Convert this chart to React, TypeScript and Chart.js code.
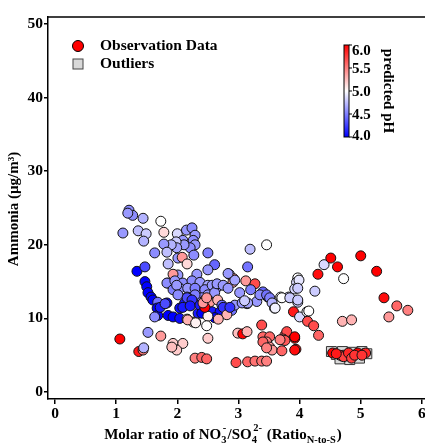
import React, { useEffect, useRef } from "react";
import { Chart, registerables } from "chart.js";
Chart.register(...registerables);

// ---- data: NO3-/SO4 2- molar ratio, ammonia (µg/m3), predicted pH ----
const ratioA = [1.21,1.27,1.19,1.44,1.73,1.11,1.36,1.49,1.45,1.78,1.63,2.00,2.15,2.24,2.29,2.26,2.29,2.21,2.27,2.09,2.11,1.98,1.99,1.90,1.78,1.83,2.01,2.08,2.16,1.85,2.01,1.93,1.34,1.47,1.47,2.32,1.85,2.50,3.19,3.46,2.61,2.50,3.15,2.85,2.92,3.12,3.27,3.97,3.95,3.92,4.40,4.51,4.62,4.30,4.72,5.00,5.26,4.25,3.20,3.40,3.48,3.69,3.82,5.38,3.97,3.90,4.00,4.12,4.15,4.13,4.23,4.31,3.92,3.94,5.59,5.77,5.46,4.70,4.85];
const ammoniaA = [24.7,24.0,24.3,23.6,23.2,21.6,21.9,21.5,20.5,21.7,18.9,21.5,22.0,22.3,21.3,20.6,20.0,19.6,18.6,20.6,20.0,20.4,19.6,20.0,20.1,19.0,18.2,18.3,17.4,17.4,15.9,16.0,16.4,17.0,15.0,16.0,14.8,18.9,19.4,20.0,17.3,16.6,17.0,16.0,15.4,15.1,14.7,15.5,14.9,14.0,17.3,18.2,17.0,16.0,15.4,18.5,16.4,13.7,13.9,13.6,12.9,12.9,12.9,12.8,12.2,10.9,10.2,10.9,11.0,9.6,9.0,7.7,7.3,5.8,11.7,11.1,10.2,9.6,9.8];
const phA = [4.55,4.55,4.6,4.7,5.0,4.6,4.75,4.8,4.7,5.15,4.55,4.85,4.6,4.55,4.6,4.55,4.6,4.55,4.55,4.6,4.6,4.8,4.65,4.7,4.6,4.75,4.6,5.4,5.15,4.75,4.6,5.4,4.0,4.3,4.0,4.6,4.55,4.5,4.75,5.0,4.4,4.6,4.45,4.8,5.4,5.4,5.7,5.0,4.85,4.85,4.85,6.0,6.0,5.95,5.0,6.0,6.0,4.8,4.5,4.4,4.3,5.0,4.8,5.95,4.8,5.9,4.85,4.95,5.0,5.7,5.7,5.6,6.0,5.9,5.6,5.5,5.4,5.3,5.3];

const ratioL = [1.83,1.96,2.09,2.24,2.37,1.93,2.04,2.17,2.32,2.42,2.50,1.99,2.29,2.45,2.57,2.66,2.50,2.61,2.40,2.29,2.16,2.01,2.65,2.45,2.53,2.66,2.91,2.94,2.75,2.83,2.83,3.02,3.14,3.30,3.35,3.46,3.51,3.55,3.59,3.71,3.84,3.97,3.99,3.97];
const ammoniaL = [14.8,15.1,14.8,15.1,14.9,13.9,14.1,14.1,13.7,13.6,14.5,14.5,14.1,13.9,14.5,14.3,13.2,13.5,12.8,13.2,12.9,13.2,14.7,12.5,12.2,12.5,14.9,15.2,14.5,16.1,14.1,13.5,12.0,12.3,13.2,13.2,12.8,12.1,11.4,12.8,12.8,12.5,15.2,14.1];
const phL = [4.55,4.6,4.55,4.55,4.6,4.5,4.55,4.6,4.55,4.6,4.65,4.6,4.5,4.55,4.6,4.55,4.6,4.6,4.55,4.5,4.5,4.55,4.6,5.6,5.4,5.3,5.35,4.65,4.6,4.6,4.6,4.6,4.85,4.6,4.55,4.45,4.5,4.7,4.85,5.0,4.8,4.8,4.9,4.8];

const ratioB = [1.50,1.52,1.57,1.60,1.68,1.67,1.68,1.63,1.83,1.85,1.93,2.04,2.04,2.16,2.26,2.30,2.12,2.16,2.24,2.34,1.72,1.80,2.09,2.21,2.57,2.65,2.70,2.73,2.75,2.61,2.89,2.94,3.06,3.15,2.37,2.40,2.50,2.45,2.42,2.48,2.81,2.86,3.10];
const ammoniaB = [14.3,13.5,12.9,12.5,12.2,11.4,10.4,10.2,12.1,10.4,10.2,10.0,11.4,9.9,9.5,9.5,12.1,12.8,12.5,10.7,11.5,12.0,11.5,11.7,10.9,10.2,10.9,11.8,11.5,10.1,11.1,11.8,12.1,12.1,11.8,10.7,10.3,11.5,12.1,12.8,10.5,11.5,12.4];
const phB = [4.0,4.0,4.0,4.0,4.45,4.0,4.0,4.55,4.0,4.0,4.0,4.05,4.05,5.2,5.2,4.8,4.1,4.3,4.2,4.1,4.1,4.3,4.1,4.1,4.1,4.0,4.05,4.45,4.2,4.0,4.45,4.6,4.6,4.65,4.1,4.0,5.05,6.0,5.4,5.4,5.3,4.2,4.8];

const ratioC = [1.06,1.37,1.44,1.45,1.52,1.73,1.93,2.09,1.99,1.91,2.29,2.40,2.48,2.50,2.17,2.30,2.48,2.67,2.99,3.07,3.14,2.96,3.15,3.27,3.38,3.46,3.38,3.40,3.51,3.46,3.51,3.55,3.40,3.71,3.76,3.79,3.73,3.76,3.92,3.92,3.60,3.68,3.46];
const ammoniaC = [7.2,5.5,5.7,6.0,8.1,7.6,6.6,6.6,5.7,6.1,4.6,4.7,4.5,7.3,9.8,9.4,9.0,9.9,8.0,7.9,8.2,4.0,4.1,4.2,4.2,4.2,9.1,7.5,7.5,6.8,6.1,5.7,6.8,5.6,7.7,8.2,7.2,7.0,5.7,7.5,11.4,7.1,6.0];
const phC = [6.0,5.9,5.5,4.7,4.6,5.4,5.2,5.2,5.2,5.25,5.5,5.6,5.6,5.2,5.3,5.05,5.0,5.3,5.25,6.0,5.3,5.7,5.6,5.55,5.55,5.5,5.7,5.6,5.6,5.5,5.4,5.4,5.6,5.6,5.6,5.7,5.6,5.65,5.95,6.0,4.95,5.5,5.5];

const ratioD = [4.54,4.66,4.72,4.80,4.85,4.95,5.08,4.90,4.60,5.02];
const ammoniaD = [5.3,5.0,4.8,5.3,4.6,5.3,5.3,5.0,5.2,5.0];
const phD = [6.0,5.8,5.75,5.85,5.75,6.0,5.85,5.8,5.9,5.8];

const outlierRatio = [4.52,4.60,4.70,4.78,4.86,4.94,5.02,5.10,4.66,4.82,4.98,4.74];
const outlierAmmonia = [5.5,5.1,5.5,5.0,5.4,5.0,5.5,5.2,4.5,4.4,4.6,4.9];

const xTicks = [0, 1, 2, 3, 4, 5, 6];
const yTicks = [0, 10, 20, 30, 40, 50];
const cbTicks = [4.0, 4.5, 5.0, 5.5, 6.0];

const FONT = '"Liberation Serif", "Times New Roman", serif';

function phColor(v: number) {
  const t = Math.max(0, Math.min(1, (v - 4) / 2));
  let r: number, g: number, b: number;
  if (t < 0.5) {
    r = g = Math.round(255 * 2 * t);
    b = 255;
  } else {
    r = 255;
    g = b = Math.round(255 * (2 - 2 * t));
  }
  return `rgb(${r},${g},${b})`;
}

const overlay = {
  id: "overlay",
  afterDraw(chart: any) {
    const ctx = chart.ctx;
    const a = chart.chartArea;
    ctx.save();
    // top / right border
    ctx.strokeStyle = "#000";
    ctx.lineWidth = 1.5;
    ctx.beginPath();
    ctx.moveTo(a.left, a.top);
    ctx.lineTo(a.right, a.top);
    ctx.lineTo(a.right, a.bottom);
    ctx.stroke();

    // legend
    ctx.fillStyle = "#ff0000";
    ctx.strokeStyle = "#000";
    ctx.lineWidth = 1;
    ctx.beginPath();
    ctx.arc(78, 46, 5.5, 0, Math.PI * 2);
    ctx.fill();
    ctx.stroke();
    ctx.fillStyle = "#d9d9d9";
    ctx.strokeStyle = "#444";
    ctx.fillRect(73, 59, 10, 10);
    ctx.strokeRect(73, 59, 10, 10);
    ctx.fillStyle = "#000";
    ctx.font = `bold 15.5px ${FONT}`;
    ctx.textAlign = "left";
    ctx.textBaseline = "middle";
    ctx.fillText("Observation Data", 100, 46);
    ctx.fillText("Outliers", 100, 64);

    // colorbar
    const cbx = 344, cbw = 5, cbTop = 45, cbBot = 137;
    const grad = ctx.createLinearGradient(0, cbBot, 0, cbTop);
    grad.addColorStop(0, phColor(4));
    grad.addColorStop(0.5, phColor(5));
    grad.addColorStop(1, phColor(6));
    ctx.fillStyle = grad;
    ctx.fillRect(cbx, cbTop, cbw, cbBot - cbTop);
    ctx.strokeStyle = "#000";
    ctx.lineWidth = 1;
    ctx.strokeRect(cbx, cbTop, cbw, cbBot - cbTop);
    ctx.fillStyle = "#000";
    ctx.font = `bold 15px ${FONT}`;
    ctx.textAlign = "left";
    ctx.textBaseline = "middle";
    cbTicks.forEach((v) => {
      const y = cbBot - ((v - 4) / 2) * (cbBot - cbTop);
      ctx.beginPath();
      ctx.moveTo(cbx + cbw, y);
      ctx.lineTo(cbx + cbw + 3, y);
      ctx.stroke();
      const ly = Math.max(cbTop + 5, Math.min(cbBot - 2, y));
      ctx.fillText(v.toFixed(1), cbx + cbw + 3, ly + 1);
    });
    ctx.save();
    ctx.translate(388, 91);
    ctx.rotate(Math.PI / 2);
    ctx.textAlign = "center";
    ctx.font = `bold 15px ${FONT}`;
    ctx.fillText("predicted pH", 0, 0);
    ctx.restore();

    // y title
    ctx.save();
    ctx.translate(14, 209);
    ctx.rotate(-Math.PI / 2);
    ctx.textAlign = "center";
    ctx.font = `bold 15px ${FONT}`;
    ctx.fillText("Ammonia (\u00b5g/m\u00b3)", 0, 0);
    ctx.restore();

    // x title with sub/superscripts
    const base = `bold 15px ${FONT}`;
    const small = `bold 10.5px ${FONT}`;
    type Part = { t: string; k: "n" | "sub" | "pair"; s?: string };
    const parts: Part[] = [
      { t: "Molar ratio of NO", k: "n" },
      { t: "3", k: "pair", s: "-" },
      { t: "/SO", k: "n" },
      { t: "4", k: "pair", s: "2-" },
      { t: " (Ratio", k: "n" },
      { t: "N-to-S", k: "sub" },
      { t: ")", k: "n" },
    ];
    const widthOf = (p: Part) => {
      if (p.k === "n") { ctx.font = base; return ctx.measureText(p.t).width; }
      ctx.font = small;
      const w1 = ctx.measureText(p.t).width;
      const w2 = p.s ? ctx.measureText(p.s).width + 1.5 : 0;
      return Math.max(w1, w2) + 1;
    };
    const total = parts.reduce((s, p) => s + widthOf(p), 0);
    let x = 223 - total / 2;
    const by = 439;
    ctx.textBaseline = "alphabetic";
    ctx.textAlign = "left";
    parts.forEach((p) => {
      const w = widthOf(p);
      if (p.k === "n") {
        ctx.font = base;
        ctx.fillText(p.t, x, by);
      } else {
        ctx.font = small;
        ctx.fillText(p.t, x, by + 4);
        if (p.s) ctx.fillText(p.s, x + 1.5, by - 8);
      }
      x += w;
    });
    ctx.restore();
  },
};

export default function App() {
  const ref = useRef<HTMLCanvasElement | null>(null);
  useEffect(() => {
    document.body.style.margin = "0";
    if (!ref.current) return;
    const ratio = [...ratioA, ...ratioL, ...ratioB, ...ratioC, ...ratioD];
    const ammonia = [...ammoniaA, ...ammoniaL, ...ammoniaB, ...ammoniaC, ...ammoniaD];
    const ph = [...phA, ...phL, ...phB, ...phC, ...phD];
    const n = Math.min(ratio.length, ammonia.length, ph.length);
    const obs = [] as { x: number; y: number }[];
    const colors: string[] = [];
    for (let i = 0; i < n; i++) {
      obs.push({ x: ratio[i], y: ammonia[i] });
      colors.push(phColor(ph[i]));
    }
    const outl = outlierRatio.map((v, i) => ({ x: v, y: outlierAmmonia[i] }));
    const chart = new Chart(ref.current, {
      type: "scatter",
      data: {
        datasets: [
          {
            label: "Outliers",
            data: outl,
            order: 2,
            pointStyle: "rect",
            pointRadius: 7,
            backgroundColor: "#d9d9d9",
            borderColor: "#333",
            borderWidth: 1,
          },
          {
            label: "Observation Data",
            data: obs,
            order: 1,
            pointRadius: 5,
            backgroundColor: colors,
            borderColor: "#111",
            borderWidth: 1,
          },
        ],
      },
      options: {
        responsive: false,
        animation: false,
        layout: { padding: { top: 17, right: 17, left: 0, bottom: 0 } },
        plugins: { legend: { display: false }, tooltip: { enabled: false } },
        scales: {
          x: {
            type: "linear",
            min: -0.115,
            max: 6.1,
            afterBuildTicks: (s: any) => { s.ticks = xTicks.map((v) => ({ value: v })); },
            afterFit: (s: any) => { s.height = 46; },
            ticks: { color: "#000", font: { family: FONT, size: 15.5, weight: "bold" }, padding: 1, maxRotation: 0, callback: (v: any) => String(v) },
            grid: { drawOnChartArea: false, drawTicks: true, tickLength: 5, color: "#000", lineWidth: 1.5 },
            border: { display: true, color: "#000", width: 1.5 },
          },
          y: {
            type: "linear",
            min: -0.95,
            max: 50.95,
            afterBuildTicks: (s: any) => { s.ticks = yTicks.map((v) => ({ value: v })); },
            afterFit: (s: any) => { s.width = 48; },
            ticks: { color: "#000", font: { family: FONT, size: 15.5, weight: "bold" }, padding: 1, callback: (v: any) => String(v) },
            grid: { drawOnChartArea: false, drawTicks: true, tickLength: 4, color: "#000", lineWidth: 1.5 },
            border: { display: true, color: "#000", width: 1.5 },
          },
        },
      },
      plugins: [overlay],
    } as any);
    return () => chart.destroy();
  }, []);
  return (
    <div style={{ width: 425, height: 445, overflow: "hidden", position: "relative" }}>
      <canvas ref={ref} width={445} height={445} style={{ width: 445, height: 445, display: "block" }} />
    </div>
  );
}
